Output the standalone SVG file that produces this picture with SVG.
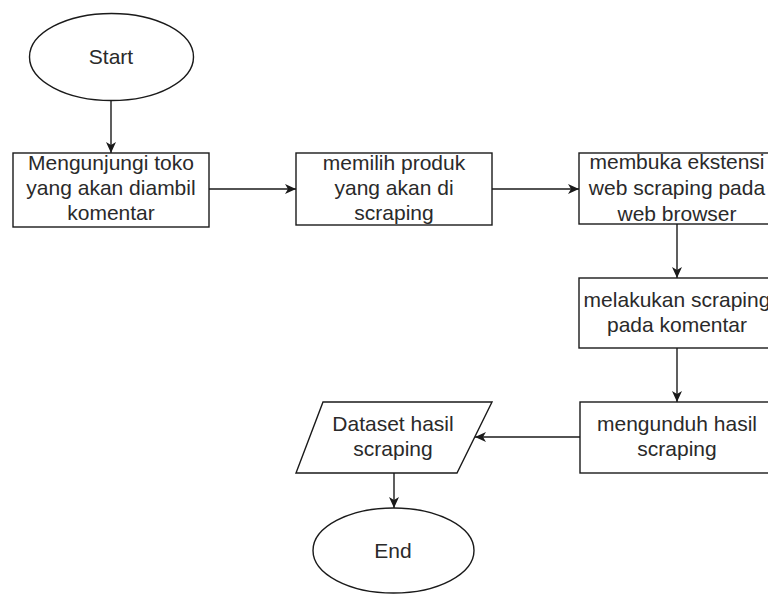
<svg xmlns="http://www.w3.org/2000/svg" width="768" height="594" viewBox="0 0 768 594">
<style>
.shape{fill:#ffffff;stroke:#1a1a1a;stroke-width:1.4}
.lbl{font-family:"Liberation Sans",Arial,sans-serif;font-size:21px;fill:#2a2a2a;text-anchor:middle}
.conn{stroke:#1a1a1a;stroke-width:1.4;fill:none;marker-end:url(#arr)}
</style>
<defs>
<marker id="arr" markerUnits="userSpaceOnUse" markerWidth="12" markerHeight="10" refX="11" refY="5" orient="auto">
<path d="M0,0 L11,5 L0,10 L3,5 Z" fill="#1a1a1a"/>
</marker>
</defs>
<rect width="768" height="594" fill="#ffffff"/>
<g id="connectors">
<line class="conn" x1="111" y1="100" x2="111" y2="153"/>
<line class="conn" x1="209" y1="189" x2="296" y2="189"/>
<line class="conn" x1="492" y1="189" x2="579" y2="189"/>
<line class="conn" x1="677" y1="224" x2="677" y2="278"/>
<line class="conn" x1="677" y1="348" x2="677" y2="402"/>
<line class="conn" x1="580" y1="437" x2="475" y2="437"/>
<line class="conn" x1="394" y1="473" x2="394" y2="508"/>
</g>
<g id="start">
<ellipse class="shape" cx="111.5" cy="57" rx="82" ry="43.5"/>
<text class="lbl" x="111" y="64">Start</text>
</g>
<g id="n1">
<rect class="shape" x="13" y="153" width="196" height="74"/>
<text class="lbl" x="111" y="170">Mengunjungi toko</text>
<text class="lbl" x="111" y="195">yang akan diambil</text>
<text class="lbl" x="111" y="220">komentar</text>
</g>
<g id="n2">
<rect class="shape" x="296" y="153" width="196" height="72"/>
<text class="lbl" x="394" y="170">memilih produk</text>
<text class="lbl" x="394" y="195">yang akan di</text>
<text class="lbl" x="394" y="220">scraping</text>
</g>
<g id="n3">
<rect class="shape" x="579" y="153" width="196" height="71"/>
<text class="lbl" x="677" y="169">membuka ekstensi</text>
<text class="lbl" x="677" y="195">web scraping pada</text>
<text class="lbl" x="677" y="221">web browser</text>
</g>
<g id="n4">
<rect class="shape" x="579" y="278" width="196" height="70"/>
<text class="lbl" x="677" y="307">melakukan scraping</text>
<text class="lbl" x="677" y="332">pada komentar</text>
</g>
<g id="n5">
<rect class="shape" x="580" y="402" width="196" height="71"/>
<text class="lbl" x="677" y="431">mengunduh hasil</text>
<text class="lbl" x="677" y="456">scraping</text>
</g>
<g id="dataset">
<polygon class="shape" points="323,402 492,402 457,473 296,473"/>
<text class="lbl" x="393" y="431">Dataset hasil</text>
<text class="lbl" x="393" y="456">scraping</text>
</g>
<g id="end">
<ellipse class="shape" cx="393.5" cy="550.5" rx="80.5" ry="42.5"/>
<text class="lbl" x="393" y="558">End</text>
</g>
</svg>
